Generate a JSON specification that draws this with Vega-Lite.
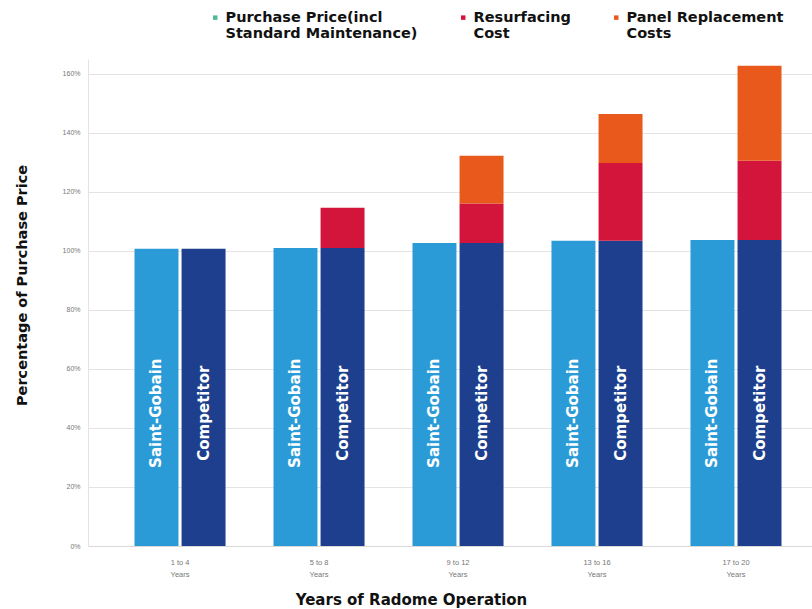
{
  "$schema": "https://vega.github.io/schema/vega-lite/v6.json",
  "width": 724,
  "height": 487,
  "autosize": {"type": "none"},
  "padding": {"left": 88, "top": 59, "right": 0, "bottom": 63},
  "background": "white",
  "config": {"font": "DejaVu Sans", "view": {"stroke": null}},
  "data": {
    "values": [
      {"period": "1 to 4 Years", "company": "Saint-Gobain", "cost": "Purchase Price(incl Standard Maintenance)", "value": 100.7},
      {"period": "1 to 4 Years", "company": "Competitor", "cost": "Purchase Price(incl Standard Maintenance)", "value": 100.7},
      {"period": "5 to 8 Years", "company": "Saint-Gobain", "cost": "Purchase Price(incl Standard Maintenance)", "value": 101.0},
      {"period": "5 to 8 Years", "company": "Competitor", "cost": "Purchase Price(incl Standard Maintenance)", "value": 101.0},
      {"period": "5 to 8 Years", "company": "Competitor", "cost": "Resurfacing Cost", "value": 13.6},
      {"period": "9 to 12 Years", "company": "Saint-Gobain", "cost": "Purchase Price(incl Standard Maintenance)", "value": 102.7},
      {"period": "9 to 12 Years", "company": "Competitor", "cost": "Purchase Price(incl Standard Maintenance)", "value": 102.7},
      {"period": "9 to 12 Years", "company": "Competitor", "cost": "Resurfacing Cost", "value": 13.3},
      {"period": "9 to 12 Years", "company": "Competitor", "cost": "Panel Replacement Costs", "value": 16.2},
      {"period": "13 to 16 Years", "company": "Saint-Gobain", "cost": "Purchase Price(incl Standard Maintenance)", "value": 103.4},
      {"period": "13 to 16 Years", "company": "Competitor", "cost": "Purchase Price(incl Standard Maintenance)", "value": 103.4},
      {"period": "13 to 16 Years", "company": "Competitor", "cost": "Resurfacing Cost", "value": 26.4},
      {"period": "13 to 16 Years", "company": "Competitor", "cost": "Panel Replacement Costs", "value": 16.6},
      {"period": "17 to 20 Years", "company": "Saint-Gobain", "cost": "Purchase Price(incl Standard Maintenance)", "value": 103.7},
      {"period": "17 to 20 Years", "company": "Competitor", "cost": "Purchase Price(incl Standard Maintenance)", "value": 103.7},
      {"period": "17 to 20 Years", "company": "Competitor", "cost": "Resurfacing Cost", "value": 26.8},
      {"period": "17 to 20 Years", "company": "Competitor", "cost": "Panel Replacement Costs", "value": 32.2}
    ]
  },
  "transform": [
    {"calculate": "indexof(['Purchase Price(incl Standard Maintenance)','Resurfacing Cost','Panel Replacement Costs'], datum.cost)", "as": "stack_order"}
  ],
  "encoding": {
    "x": {
      "field": "period",
      "type": "nominal",
      "sort": ["1 to 4 Years", "5 to 8 Years", "9 to 12 Years", "13 to 16 Years", "17 to 20 Years"],
      "scale": {"paddingInner": 0.345, "paddingOuter": 0.277, "align": 0.604},
      "axis": {
        "title": "Years of Radome Operation",
        "titleFont": "DejaVu Sans",
        "titleFontSize": 15,
        "titleFontWeight": "bold",
        "titleColor": "#111111",
        "titleX": 323,
        "titlePadding": 15,
        "labelAngle": 0,
        "labelFont": "Liberation Sans",
        "labelFontSize": 7.5,
        "labelColor": "#777777",
        "labelPadding": 12,
        "labelLineHeight": 12,
        "labelExpr": "[replace(datum.label, ' Years', ''), 'Years']",
        "ticks": false,
        "domain": true,
        "domainColor": "#d9d9d9",
        "grid": false
      }
    },
    "xOffset": {
      "field": "company",
      "type": "nominal",
      "sort": ["Saint-Gobain", "Competitor"],
      "scale": {"paddingInner": 0.066}
    },
    "y": {
      "field": "value",
      "type": "quantitative",
      "stack": "zero",
      "scale": {"domain": [0, 165], "nice": false},
      "axis": {
        "title": "Percentage of Purchase Price",
        "titleFont": "DejaVu Sans",
        "titleFontSize": 14.5,
        "titleFontWeight": "bold",
        "titleColor": "#111111",
        "titlePadding": 33,
        "titleY": 226,
        "values": [0, 20, 40, 60, 80, 100, 120, 140, 160],
        "labelExpr": "datum.value + '%'",
        "labelFont": "Liberation Sans",
        "labelFontSize": 7,
        "labelColor": "#777777",
        "labelPadding": 8,
        "ticks": false,
        "domain": true,
        "domainColor": "#e3e3e3",
        "gridColor": "#e3e3e3",
        "grid": true
      }
    },
    "order": {"field": "stack_order", "type": "quantitative", "sort": "ascending"}
  },
  "layer": [
    {
      "mark": {"type": "bar"},
      "encoding": {
        "color": {
          "condition": {"test": "datum.company === 'Saint-Gobain'", "value": "#2b9bd7"},
          "field": "cost",
          "type": "nominal",
          "scale": {
            "domain": ["Purchase Price(incl Standard Maintenance)", "Resurfacing Cost", "Panel Replacement Costs"],
            "range": ["#1d3f8d", "#d3143b", "#e8591b"]
          },
          "legend": null
        }
      }
    },
    {
      "mark": {"type": "bar", "opacity": 0},
      "encoding": {
        "color": {
          "field": "cost",
          "type": "nominal",
          "scale": {
            "domain": ["Purchase Price(incl Standard Maintenance)", "Resurfacing Cost", "Panel Replacement Costs"],
            "range": ["#4fb99a", "#d3143b", "#e8591b"]
          },
          "legend": {
            "title": null,
            "orient": "none",
            "direction": "horizontal",
            "legendX": 120,
            "legendY": -49,
            "symbolType": "square",
            "symbolSize": 20,
            "symbolOpacity": 1,
            "symbolStrokeWidth": 0,
            "labelFont": "DejaVu Sans",
            "labelFontSize": 14.5,
            "labelFontWeight": "bold",
            "labelColor": "#111111",
            "labelLineHeight": 21,
            "labelOffset": 3,
            "labelLimit": 300,
            "columnPadding": 38,
            "labelExpr": "datum.label == 'Purchase Price(incl Standard Maintenance)' ? ['Purchase Price(incl', 'Standard Maintenance)'] : datum.label == 'Resurfacing Cost' ? ['Resurfacing', 'Cost'] : ['Panel Replacement', 'Costs']"
          }
        }
      }
    },
    {
      "transform": [{"filter": "datum.cost === 'Purchase Price(incl Standard Maintenance)'"}],
      "mark": {"type": "text", "angle": 270, "color": "white", "font": "DejaVu Sans", "fontSize": 15, "fontWeight": "bold", "align": "center", "baseline": "middle"},
      "encoding": {
        "y": {"datum": 45, "type": "quantitative"},
        "text": {"field": "company", "type": "nominal"}
      }
    }
  ],
  "resolve": {"scale": {"color": "independent"}}
}
